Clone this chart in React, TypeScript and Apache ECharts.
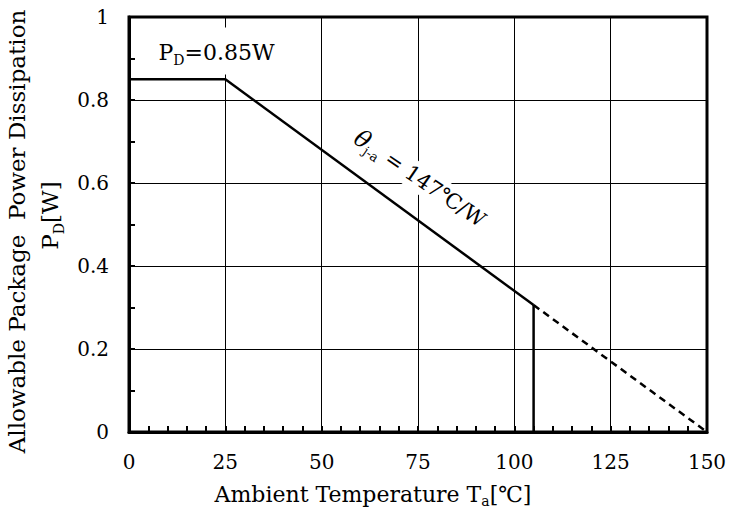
import React, { useEffect, useRef } from "react";
import * as echarts from "echarts";

const xMin = 0;
const xMax = 150;
const xStep = 25;
const yMin = 0;
const yMax = 1;
const yStep = 0.2;

const flatSegment = [
  [0, 0.85],
  [25, 0.85],
];
const deratingSegment = [
  [25, 0.85],
  [105, 0.306],
];
const cutoffSegment = [
  [105, 0.306],
  [105, 0],
];
const extrapolatedSegment = [
  [105, 0.306],
  [150, 0],
];

const pdLabelAnchor = [22.7, 0.918];
const thetaLabelAnchor = [75.5, 0.61];

const FONT = "'DejaVu Serif', serif";

export default function App() {
  const ref = useRef<HTMLDivElement>(null);

  useEffect(() => {
    document.body.style.margin = "0";
    const chart = echarts.init(ref.current!, null, { renderer: "svg" });
    const lineSeries = (data: number[][], dashed = false) => ({
      type: "line",
      data,
      showSymbol: false,
      symbol: "none",
      silent: true,
      lineStyle: {
        color: "#000",
        width: 2.5,
        type: dashed ? [7, 5] : "solid",
      },
    });
    chart.setOption({
      animation: false,
      backgroundColor: "#fff",
      textStyle: { fontFamily: FONT, color: "#000" },
      grid: {
        left: 129,
        right: 23,
        top: 17,
        bottom: 87,
        show: true,
        borderColor: "#000",
        borderWidth: 3,
        backgroundColor: "transparent",
        containLabel: false,
        outerBoundsMode: "none",
      },
      xAxis: {
        type: "value",
        min: xMin,
        max: xMax,
        interval: xStep,
        name: "{n|Ambient Temperature T}{s|a}{n|[℃]}",
        nameLocation: "middle",
        nameGap: 48,
        nameTextStyle: {
          fontFamily: FONT,
          fontSize: 22,
          color: "#000",
          padding: [0, 90, 0, 0],
          rich: {
            n: { fontFamily: FONT, fontSize: 22, color: "#000", lineHeight: 28 },
            s: { fontFamily: FONT, fontSize: 14, color: "#000", lineHeight: 14, verticalAlign: "bottom" },
          },
        },
        axisLine: { show: true, lineStyle: { color: "#000", width: 3 } },
        axisTick: { show: true, inside: true, length: 6, lineStyle: { color: "#000", width: 2 } },
        minorTick: { show: true, splitNumber: 5, length: 6, lineStyle: { color: "#000", width: 2 } },
        splitLine: { show: true, lineStyle: { color: "#000", width: 1 } },
        axisLabel: { fontFamily: FONT, fontSize: 20, color: "#000", margin: 20 },
      },
      yAxis: {
        type: "value",
        min: yMin,
        max: yMax,
        interval: yStep,
        name: "{n|Allowable Package  Power Dissipation}\n{p|P}{s|D}{n|[W]}",
        nameLocation: "middle",
        nameGap: 55,
        nameRotate: 90,
        nameTextStyle: {
          fontFamily: FONT,
          fontSize: 23,
          color: "#000",
          align: "center",
          padding: [0, 14, 0, 0],
          rich: {
            n: { fontFamily: FONT, fontSize: 23, color: "#000", lineHeight: 33 },
            p: { fontFamily: FONT, fontSize: 23, color: "#000", lineHeight: 33, padding: [0, 0, 0, 32] },
            s: { fontFamily: FONT, fontSize: 14, color: "#000", lineHeight: 20, verticalAlign: "bottom" },
          },
        },
        axisLine: { show: true, lineStyle: { color: "#000", width: 3 } },
        axisTick: { show: true, inside: true, length: 6, lineStyle: { color: "#000", width: 2 } },
        minorTick: { show: true, splitNumber: 2, length: 6, lineStyle: { color: "#000", width: 2 } },
        splitLine: { show: true, lineStyle: { color: "#000", width: 1 } },
        axisLabel: { fontFamily: FONT, fontSize: 20, color: "#000", margin: 20 },
      },
      series: [
        lineSeries(flatSegment),
        lineSeries(deratingSegment),
        lineSeries(cutoffSegment),
        lineSeries(extrapolatedSegment, true),
      ],
    });

    const pd = chart.convertToPixel({ gridIndex: 0 }, pdLabelAnchor) as number[];
    const th = chart.convertToPixel({ gridIndex: 0 }, thetaLabelAnchor) as number[];
    chart.setOption({
      graphic: [
        {
          type: "text",
          x: pd[0],
          y: pd[1],
          z: 100,
          style: {
            text: "{n|P}{s|D}{n|=0.85W}",
            align: "center",
            verticalAlign: "middle",
            backgroundColor: "#fff",
            padding: [11, 6, 8, 6],
            fontFamily: FONT,
            fontSize: 22,
            rich: {
              n: { fontFamily: FONT, fontSize: 22, fill: "#000", lineHeight: 28 },
              s: { fontFamily: FONT, fontSize: 14, fill: "#000", lineHeight: 14, verticalAlign: "bottom" },
            },
          },
        },
        {
          type: "text",
          x: th[0],
          y: th[1],
          rotation: -0.6,
          z: 100,
          style: {
            text: "{t|θ}{s|j-a}{n| = 147℃/W}",
            align: "center",
            verticalAlign: "middle",
            backgroundColor: "#fff",
            padding: [0, 2, 0, 2],
            fontFamily: FONT,
            fontSize: 21,
            rich: {
              t: { fontFamily: FONT, fontSize: 24, fontStyle: "italic", fill: "#000", lineHeight: 28 },
              n: { fontFamily: FONT, fontSize: 21, fill: "#000", lineHeight: 28 },
              s: { fontFamily: FONT, fontSize: 13, fill: "#000", lineHeight: 14, verticalAlign: "bottom" },
            },
          },
        },
      ],
    });

    return () => chart.dispose();
  }, []);

  return <div ref={ref} style={{ width: 730, height: 519 }} />;
}
